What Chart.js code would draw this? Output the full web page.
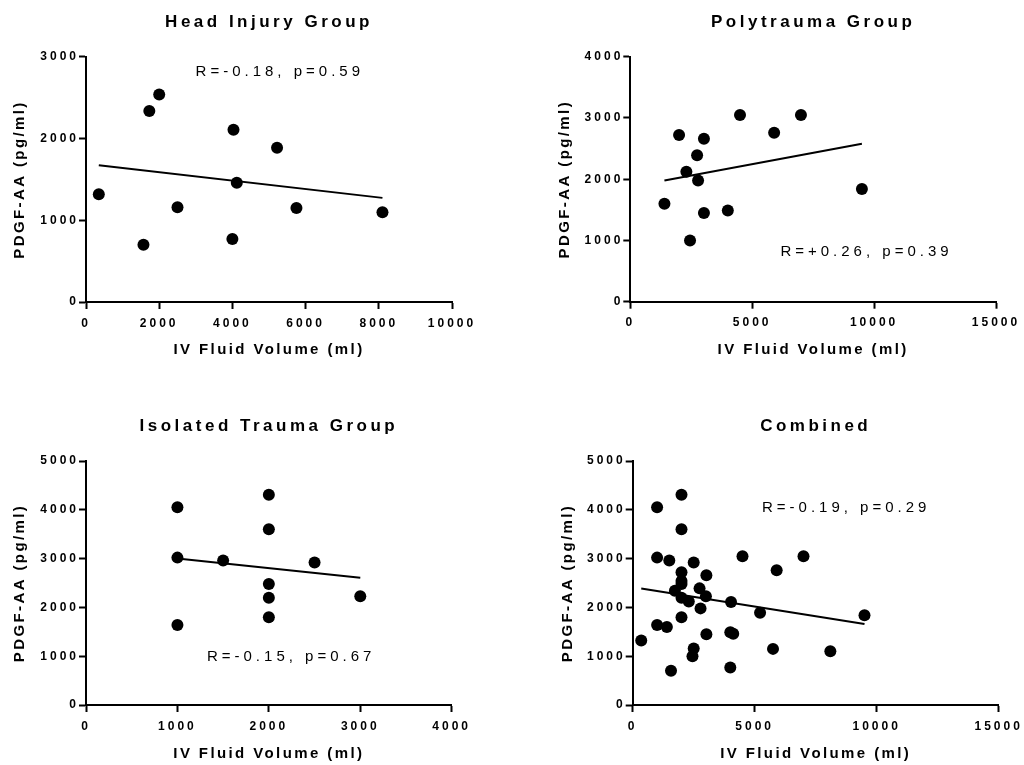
<!DOCTYPE html>
<html>
<head>
<meta charset="utf-8">
<title>PDGF-AA vs IV Fluid Volume</title>
<script src="https://cdn.jsdelivr.net/npm/chart.js@4.4.1/dist/chart.umd.min.js"></script>
<style>
  html, body { margin: 0; padding: 0; background: #fff; overflow: hidden; }
  canvas { position: absolute; display: block; }
</style>
</head>
<body>
<canvas id="head" width="512" height="382" style="left:0;top:0"></canvas>
<canvas id="poly" width="512" height="382" style="left:512px;top:0"></canvas>
<canvas id="iso" width="512" height="383" style="left:0;top:382px"></canvas>
<canvas id="all" width="512" height="383" style="left:512px;top:382px"></canvas>
<script>
// ---- Data: IV fluid volume (ml) and PDGF-AA (pg/ml) per patient ----
const headVolume = [350, 1570, 1730, 2000, 2500, 4000, 4030, 4120, 5220, 5750, 8100];
const headPdgf   = [1320, 700, 2340, 2540, 1160, 770, 2110, 1460, 1890, 1150, 1100];

const polyVolume = [1400, 2000, 2300, 2450, 2740, 2780, 3020, 3020, 4000, 4500, 5900, 7000, 9500];
const polyPdgf   = [1600, 2720, 2120, 1000, 2390, 1980, 2660, 1450, 1490, 3050, 2760, 3050, 1840];

const isoVolume  = [1000, 1000, 1000, 1500, 2000, 2000, 2000, 2000, 2000, 2500, 3000];
const isoPdgf    = [4050, 3020, 1640, 2960, 4310, 3600, 2480, 2200, 1800, 2920, 2230];

const allVolume  = headVolume.concat(polyVolume, isoVolume);
const allPdgf    = headPdgf.concat(polyPdgf, isoPdgf);

// Regression line end points per group
const headFitX = [350, 8100],  headFitY = [1675, 1275];
const polyFitX = [1400, 9500], polyFitY = [1980, 2580];
const isoFitX  = [1000, 3000], isoFitY  = [3000, 2610];
const allFitX  = [350, 9500],  allFitY  = [2385, 1660];

// Panel titles and correlation labels
const panelTitles = ['Head Injury Group', 'Polytrauma Group', 'Isolated Trauma Group', 'Combined'];
const statTexts   = ['R=-0.18, p=0.59', 'R=+0.26, p=0.39', 'R=-0.15, p=0.67', 'R=-0.19, p=0.29'];

// Axis ranges / tick steps
const xMaxes  = [10000, 15000, 4000, 15000];
const xSteps  = [2000, 5000, 1000, 5000];
const yMaxes  = [3000, 4000, 5000, 5000];
const yStep   = 1000;

const xAxisTitle = 'IV Fluid Volume (ml)';
const yAxisTitle = 'PDGF-AA (pg/ml)';

// ---- Styling ----
const FAMILY = '"Liberation Sans", Arial, Helvetica, sans-serif';
Chart.defaults.font.family = FAMILY;
Chart.defaults.color = '#000';

// letter spacing keyed by weight + font pixel size
// (b17 panel title, b15 axis title, b12 tick labels, 15 correlation label)
const SPACING = { b17: 3.5, b15: 2.4, b12: 3, '15': 4 };

function spacedContext(ctx) {
  const fill = ctx.fillText.bind(ctx);
  const measure = ctx.measureText.bind(ctx);
  const pick = () => {
    const f = ctx.font;
    const m = /(\d+(?:\.\d+)?)px/.exec(f);
    const key = (/bold|700/.test(f) ? 'b' : '') + (m ? Math.round(parseFloat(m[1])) : '');
    return (SPACING[key] || 0) + 'px';
  };
  ctx.fillText = function (t, x, y, w) {
    ctx.letterSpacing = pick();
    if (w === undefined) fill(t, x, y); else fill(t, x, y, w);
  };
  ctx.measureText = function (t) {
    ctx.letterSpacing = pick();
    return measure(t);
  };
  return ctx;
}

// correlation label placed in data coordinates
const statLabel = {
  id: 'statLabel',
  afterDatasetsDraw(chart, args, opts) {
    const { ctx, scales } = chart;
    const px = scales.x.getPixelForValue(opts.x);
    const py = scales.y.getPixelForValue(opts.y);
    ctx.save();
    ctx.font = '15px ' + FAMILY;
    ctx.fillStyle = '#000';
    ctx.textAlign = 'center';
    ctx.textBaseline = 'middle';
    ctx.fillText(opts.text, px + SPACING['15'] / 2, py);
    ctx.restore();
  }
};

const pairs = (xs, ys) => xs.map((x, i) => ({ x, y: ys[i] }));

// layout boxes for each panel
const boxes = [
  { padRight: 60,   titleTop: 12.2, titleBottom: 24.4, xHeight: 80,   xTitleBottom: 23.3, yWidth: 86,    yTitleTop: 11.3, stat: [5240, 2815] },
  { padRight: 28,   titleTop: 12.2, titleBottom: 24.1, xHeight: 80.3, xTitleBottom: 23.3, yWidth: 118.3, yTitleTop: 44.3, stat: [9606, 816] },
  { padRight: 60.3, titleTop: 34.0, titleBottom: 24.6, xHeight: 60,   xTitleBottom: 2.2,  yWidth: 86,    yTitleTop: 11.3, stat: [2222, 984] },
  { padRight: 25.3, titleTop: 34.0, titleBottom: 24.6, xHeight: 60,   xTitleBottom: 2.2,  yWidth: 120.7, yTitleTop: 46.5, stat: [8668, 4037] }
];

function drawPanel(id, i, xs, ys, fx, fy) {
  const ctx = spacedContext(document.getElementById(id).getContext('2d'));
  const b = boxes[i];
  const tickFont = { size: 12, weight: 'bold' };
  const titleFont = { size: 15, weight: 'bold' };
  const grid = { drawOnChartArea: false, drawTicks: true, tickLength: 7, tickWidth: 2, tickColor: '#000' };
  const border = { display: true, color: '#000', width: 2 };
  return new Chart(ctx, {
    type: 'scatter',
    data: {
      datasets: [
        { data: pairs(xs, ys), pointRadius: 6, pointHoverRadius: 6, backgroundColor: '#000', borderWidth: 0, order: 2 },
        { data: pairs(fx, fy), showLine: true, pointRadius: 0, borderColor: '#000', borderWidth: 2, fill: false, order: 1 }
      ]
    },
    options: {
      responsive: false,
      animation: false,
      events: [],
      layout: { padding: { left: 0, top: 0, right: b.padRight, bottom: 0 } },
      plugins: {
        legend: { display: false },
        tooltip: { enabled: false },
        title: {
          display: true, text: panelTitles[i], fullSize: false, color: '#000',
          font: { size: 17, weight: 'bold' },
          padding: { top: b.titleTop, bottom: b.titleBottom }
        },
        statLabel: { text: statTexts[i], x: b.stat[0], y: b.stat[1] }
      },
      scales: {
        x: {
          type: 'linear', position: 'bottom', min: 0, max: xMaxes[i],
          afterFit(s) { s.height = b.xHeight; s.paddingLeft = 0; s.paddingRight = 0; },
          ticks: { stepSize: xSteps[i], color: '#000', font: tickFont, padding: 7, maxRotation: 0, autoSkip: false, callback: v => String(v) },
          grid, border,
          title: { display: true, text: xAxisTitle, color: '#000', font: titleFont, padding: { top: 0, bottom: b.xTitleBottom } }
        },
        y: {
          type: 'linear', position: 'left', min: 0, max: yMaxes[i],
          afterFit(s) { s.width = b.yWidth; s.paddingTop = 0; s.paddingBottom = 0; },
          ticks: { stepSize: yStep, color: '#000', font: tickFont, padding: 0, autoSkip: false, callback: v => String(v) },
          grid, border,
          title: { display: true, text: yAxisTitle, color: '#000', font: titleFont, padding: { top: b.yTitleTop, bottom: 0 } }
        }
      }
    },
    plugins: [statLabel]
  });
}

drawPanel('head', 0, headVolume, headPdgf, headFitX, headFitY);
drawPanel('poly', 1, polyVolume, polyPdgf, polyFitX, polyFitY);
drawPanel('iso',  2, isoVolume,  isoPdgf,  isoFitX,  isoFitY);
drawPanel('all',  3, allVolume,  allPdgf,  allFitX,  allFitY);
</script>
</body>
</html>
